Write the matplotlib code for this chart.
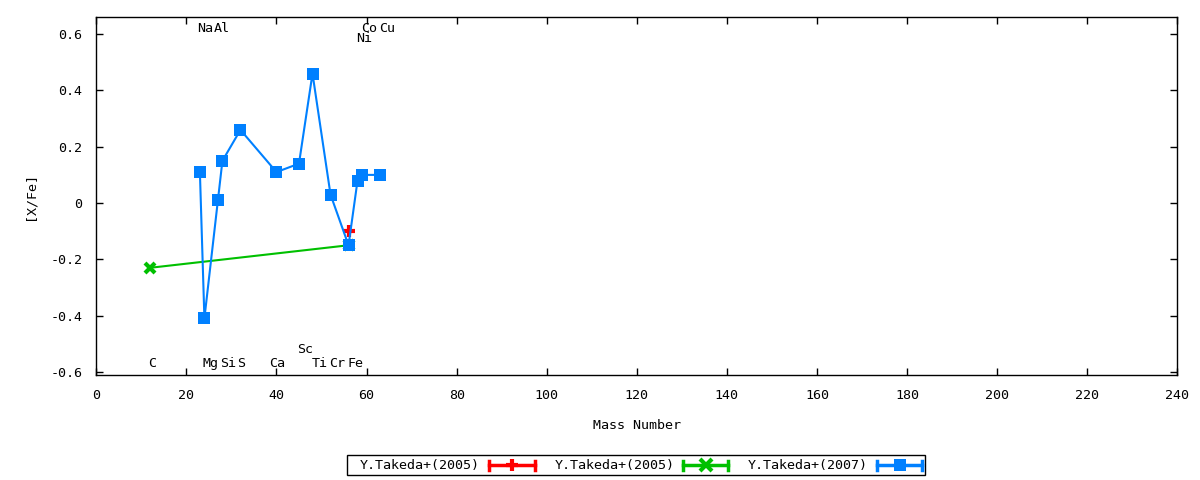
import matplotlib
matplotlib.use("Agg")
import matplotlib.pyplot as plt
from matplotlib.lines import Line2D
from matplotlib.patches import Rectangle

# ---- data ----
red_x = [56]
red_y = [-0.10]

green_x = [12, 56]
green_y = [-0.23, -0.15]

blue_x = [23, 24, 27, 28, 32, 40, 45, 48, 52, 56, 58, 59, 63]
blue_y = [0.11, -0.41, 0.01, 0.15, 0.26, 0.11, 0.14, 0.46, 0.03, -0.15, 0.08, 0.10, 0.10]

legend_labels = ["Y.Takeda+(2005)", "Y.Takeda+(2005)", "Y.Takeda+(2007)"]

label_text = ["Na", "Al", "Co", "Cu", "Ni", "C", "Mg", "Si", "S", "Ca", "Sc", "Ti", "Cr", "Fe"]
label_x = [22.4, 26.0, 58.7, 62.7, 57.6, 11.6, 23.5, 27.5, 31.3, 38.4, 44.6, 47.9, 51.6, 55.7]
label_y = [0.62, 0.62, 0.62, 0.62, 0.585, -0.57, -0.57, -0.57, -0.57, -0.57, -0.52, -0.57, -0.57, -0.57]

xticks = list(range(0, 241, 20))
yticks = [-0.6, -0.4, -0.2, 0, 0.2, 0.4, 0.6]
ytick_labels = ["-0.6", "-0.4", "-0.2", "0", "0.2", "0.4", "0.6"]

RED = "#ff0000"
GREEN = "#00c000"
BLUE = "#0080ff"
FS = 9.6

plt.rcParams['font.family'] = ['DejaVu Sans Mono']
plt.rcParams['font.size'] = FS

fig = plt.figure(figsize=(12, 4.8), dpi=100)
ax = fig.add_axes([96.3/1200, 1 - 375/480, (1177.3 - 96.3)/1200, (375 - 17)/480])

ax.plot(red_x, red_y, color=RED, lw=1.5, marker='+', ms=9, mew=3, zorder=3)
ax.plot(green_x, green_y, color=GREEN, lw=1.5, marker='x', ms=7, mew=3, zorder=3)
ax.plot(blue_x, blue_y, color=BLUE, lw=1.5, marker='s', ms=8, mew=0, zorder=4)

for t, x, y in zip(label_text, label_x, label_y):
    ax.text(x, y, t, ha='left', va='center', fontsize=FS, color='black')

ax.set_xlim(0, 240)
ax.set_ylim(-0.611, 0.661)
ax.set_xticks(xticks)
ax.set_xticklabels([str(v) for v in xticks])
ax.set_yticks(yticks)
ax.set_yticklabels(ytick_labels)
ax.tick_params(direction='in', length=5, width=1, top=True, right=True,
               labelsize=FS, pad=10)
for s in ax.spines.values():
    s.set_linewidth(1)
ax.set_xlabel("Mass Number", fontsize=FS, labelpad=12)
ax.set_ylabel("[X/Fe]", fontsize=FS, labelpad=10)

# ---- legend (gnuplot style) ----
W, H = 1200.0, 480.0
fig.add_artist(Rectangle((347/W, 1 - 475/H), (925 - 347)/W, 20/H,
                         transform=fig.transFigure, fill=False, lw=1, ec='black'))
yc = 1 - 465/H
entries = [(legend_labels[0], RED, '+', 480, 489, 535),
           (legend_labels[1], GREEN, 'x', 675, 683, 728),
           (legend_labels[2], BLUE, 's', 868, 877, 922)]
for text, col, mk, tx, x0, x1 in entries:
    fig.text(tx/W, yc, text, ha='right', va='center', fontsize=FS)
    fig.add_artist(Line2D([x0/W, x1/W], [yc, yc], transform=fig.transFigure,
                          color=col, lw=2.5))
    for xc in (x0, x1):
        fig.add_artist(Line2D([xc/W, xc/W], [yc - 4.5/H, yc + 4.5/H],
                              transform=fig.transFigure, color=col, lw=2.5))
    if mk == 's':
        fig.add_artist(Line2D([(x0 + x1)/2/W], [yc], transform=fig.transFigure,
                              color=col, marker='s', ms=8, mew=0))
    else:
        fig.add_artist(Line2D([(x0 + x1)/2/W], [yc], transform=fig.transFigure,
                              color=col, marker=mk, ms=8, mew=3))

fig.savefig("out.png", dpi=100)
